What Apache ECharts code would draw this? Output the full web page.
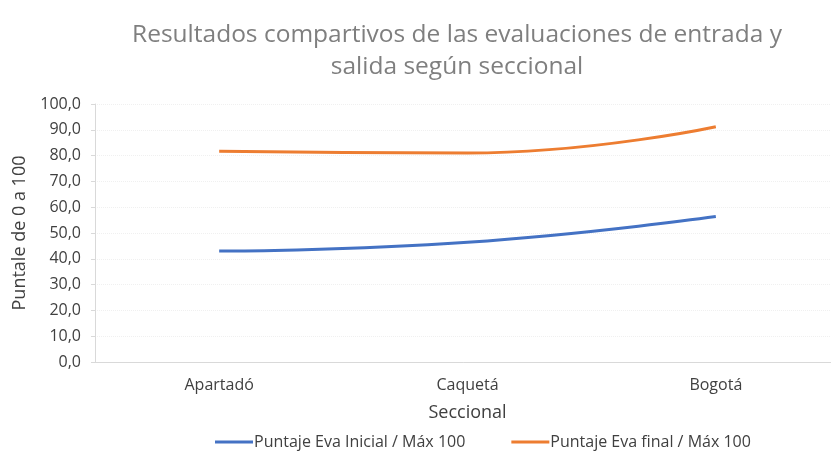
<!DOCTYPE html>
<html><head><meta charset="utf-8">
<script src="https://cdn.jsdelivr.net/npm/echarts@6/dist/echarts.min.js"></script>
<style>html,body{margin:0;padding:0;background:#fff}#c{width:831px;height:452px}</style>
</head><body><div id="c"></div>
<script>
const categories = ['Apartadó', 'Caquetá', 'Bogotá'];
const seriesNames = ['Puntaje Eva Inicial / Máx 100', 'Puntaje Eva final / Máx 100'];
const inicial = [43.0, 46.4, 56.4];
const final = [81.7, 81.0, 91.2];
const yTicks = [0, 10, 20, 30, 40, 50, 60, 70, 80, 90, 100];

const font = '"Open Sans", sans-serif';
const chart = echarts.init(document.getElementById('c'));
chart.setOption({
  animation: false,
  title: {
    text: 'Resultados compartivos de las evaluaciones de entrada y\nsalida según seccional',
    left: 452, top: 14, textAlign: 'center',
    textStyle: { fontFamily: font, fontSize: 24.5, fontWeight: 'normal', color: '#7f7f7f', lineHeight: 32 }
  },
  legend: {
    data: seriesNames, top: 429, left: 210, icon: 'rect', itemWidth: 38, itemHeight: 3, itemGap: 46,
    textStyle: { fontFamily: font, fontSize: 16, color: '#404040', padding: [0, 0, 0, -4] }
  },
  grid: { left: 95, width: 745, top: 104, height: 258, outerBoundsMode: 'none', containLabel: false },
  xAxis: {
    type: 'category', data: categories, boundaryGap: true,
    name: 'Seccional', nameLocation: 'middle', nameGap: 42,
    nameTextStyle: { fontFamily: font, fontSize: 18, color: '#404040' },
    axisLine: { lineStyle: { color: '#d9d9d9', width: 1 } },
    axisTick: { show: false },
    axisLabel: { fontFamily: font, fontSize: 16, color: '#404040', margin: 15 }
  },
  yAxis: {
    type: 'value', min: 0, max: 100, interval: 10,
    name: 'Puntale de 0 a 100', nameLocation: 'middle', nameGap: 66, nameRotate: 90,
    nameTextStyle: { fontFamily: font, fontSize: 18, color: '#404040' },
    axisLine: { show: true, lineStyle: { color: '#d9d9d9' } },
    axisTick: { show: true, length: 4, lineStyle: { color: '#d9d9d9' } },
    splitLine: { show: true, lineStyle: { color: '#f0f0f0', type: 'dotted' } },
    axisLabel: { fontFamily: font, fontSize: 16, color: '#404040', margin: 14,
      formatter: v => yTicks.includes(v) ? v.toFixed(1).replace('.', ',') : '' }
  },
  series: [
    { name: seriesNames[0], type: 'line', data: inicial, smooth: true, showSymbol: false,
      lineStyle: { width: 3, color: '#4472C4' }, itemStyle: { color: '#4472C4' } },
    { name: seriesNames[1], type: 'line', data: final, smooth: true, showSymbol: false,
      lineStyle: { width: 3, color: '#ED7D31' }, itemStyle: { color: '#ED7D31' } }
  ]
});
</script></body></html>
